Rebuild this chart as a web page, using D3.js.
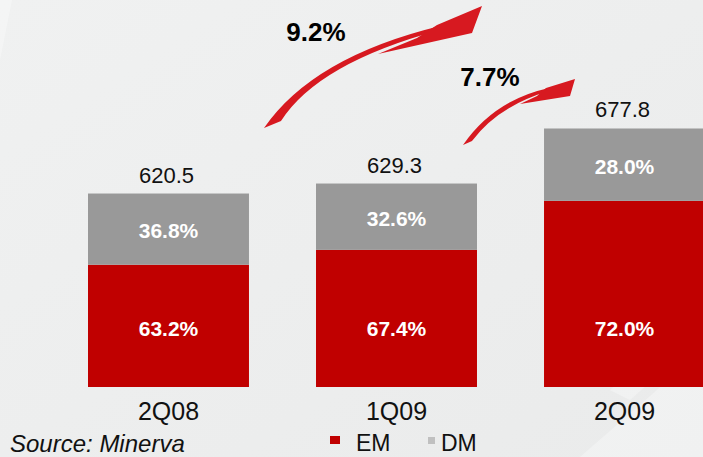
<!DOCTYPE html>
<html>
<head>
<meta charset="utf-8">
<script src="https://cdn.jsdelivr.net/npm/d3@7"></script>
<style>
  body { margin: 0; padding: 0; background: #eeefef; }
  svg { display: block; }
</style>
</head>
<body>
<svg id="chart" width="703" height="457"></svg>
<script>
// chart data
var quarters = ["2Q08", "1Q09", "2Q09"];
var totals = [620.5, 629.3, 677.8];
var emShare = [63.2, 67.4, 72.0];
var dmShare = [36.8, 32.6, 28.0];
var growth = ["9.2%", "7.7%"];
var legendNames = ["EM", "DM"];
var source = "Source: Minerva";

var W = 703, H = 457;
var RED = "#c00000", GREY = "#999999", ARROW = "#d71920";
var font = "Liberation Sans, Arial, sans-serif";

var svg = d3.select("#chart");

// background, light grey with faint white shapes
var defs = svg.append("defs");
var grad = defs.append("linearGradient").attr("id", "bg")
    .attr("x1", 0).attr("y1", 0).attr("x2", 1).attr("y2", 1);
grad.append("stop").attr("offset", "0%").attr("stop-color", "#f0f1f1");
grad.append("stop").attr("offset", "100%").attr("stop-color", "#eaebeb");
svg.append("rect").attr("width", W).attr("height", H).attr("fill", "url(#bg)");

var shapes = [
    [[0, 0], [12, 0], [0, 60]],
    [[580, 457], [703, 350], [703, 457]],
    [[610, 390], [703, 310], [703, 335], [630, 400]]
];
svg.selectAll("polygon.bgshape").data(shapes).enter().append("polygon")
    .attr("class", "bgshape")
    .attr("points", function(d) { return d.join(" "); })
    .attr("fill", "#ffffff").attr("opacity", 0.3);

// scales
var x = d3.scaleBand().domain(quarters).range([88, 705]).paddingInner(0.294).paddingOuter(0);
var y = d3.scaleLinear().domain([450, 680]).range([387, 126]);

var rows = quarters.map(function(q, i) {
    return { q: q, total: totals[i], em: emShare[i], dm: dmShare[i] };
});

var bars = svg.selectAll("g.bar").data(rows).enter().append("g").attr("class", "bar");

// each bar is split by share inside its own pixel height
bars.each(function(d) {
    var g = d3.select(this);
    var share = d3.scaleLinear().domain([0, 100]).range([y(450), y(d.total)]);
    var bx = x(d.q), bw = x.bandwidth();

    g.append("rect").attr("x", bx).attr("width", bw)
        .attr("y", share(d.em)).attr("height", share(0) - share(d.em))
        .attr("fill", RED);
    g.append("rect").attr("x", bx).attr("width", bw)
        .attr("y", share(100)).attr("height", share(d.em) - share(100))
        .attr("fill", GREY);

    var cx = bx + bw / 2;
    g.append("text").attr("x", cx).attr("y", share(0) - 51)
        .attr("text-anchor", "middle").attr("font-family", font)
        .attr("font-weight", "bold").attr("font-size", 21).attr("fill", "#fff")
        .text(d.em.toFixed(1) + "%");
    g.append("text").attr("x", cx).attr("y", (share(100) + share(d.em)) / 2 + 9)
        .attr("text-anchor", "middle").attr("font-family", font)
        .attr("font-weight", "bold").attr("font-size", 21).attr("fill", "#fff")
        .text(d.dm.toFixed(1) + "%");

    // total on top
    g.append("text").attr("x", cx - 2).attr("y", y(d.total) - 11)
        .attr("text-anchor", "middle").attr("font-family", font)
        .attr("font-size", 22).attr("fill", "#111")
        .text(d.total.toFixed(1));
});

// category labels
svg.selectAll("text.cat").data(quarters).enter().append("text")
    .attr("class", "cat")
    .attr("x", function(d) { return x(d) + x.bandwidth() / 2; })
    .attr("y", 420)
    .attr("text-anchor", "middle").attr("font-family", font)
    .attr("font-size", 25).attr("fill", "#111")
    .text(function(d) { return d; });

// growth arrows: a thin curved body plus a wedge head
var arrowBodies = [
    "M264,128 Q313,57 440,26 L440,30 Q318,63 281,121 Z",
    "M463,145 Q494,100 549,88 L549,91 Q498,106 472,141 Z"
];
var arrowHeads = [
    "M417,38 L378,54 L472,33 L482,6 L437,25 Z",
    "M537,96 L520,104 L570,96 L575,79 L546,88 Z"
];
svg.selectAll("path.arrow").data(arrowBodies.concat(arrowHeads)).enter().append("path")
    .attr("class", "arrow").attr("d", function(d) { return d; })
    .attr("fill", ARROW);

var growthPos = [[316, 41], [490, 86]];
svg.selectAll("text.growth").data(growth).enter().append("text")
    .attr("class", "growth")
    .attr("x", function(d, i) { return growthPos[i][0]; })
    .attr("y", function(d, i) { return growthPos[i][1]; })
    .attr("text-anchor", "middle").attr("font-family", font)
    .attr("font-weight", "bold").attr("font-size", 26).attr("fill", "#000")
    .text(function(d) { return d; });

// legend
var legend = svg.append("g").attr("transform", "translate(330,436)");
legend.append("rect").attr("x", 0).attr("y", 0).attr("width", 10).attr("height", 8).attr("fill", RED);
legend.append("text").attr("x", 26).attr("y", 15).attr("font-family", font)
    .attr("font-size", 23).attr("fill", "#111").text(legendNames[0]);
legend.append("rect").attr("x", 98).attr("y", 1).attr("width", 7).attr("height", 7).attr("fill", "#c0c0c0");
legend.append("text").attr("x", 111).attr("y", 15).attr("font-family", font)
    .attr("font-size", 23).attr("fill", "#111").text(legendNames[1]);

// source note
svg.append("text").attr("x", 10).attr("y", 452)
    .attr("font-family", font).attr("font-style", "italic")
    .attr("font-size", 24).attr("fill", "#111")
    .text(source);
</script>
</body>
</html>
